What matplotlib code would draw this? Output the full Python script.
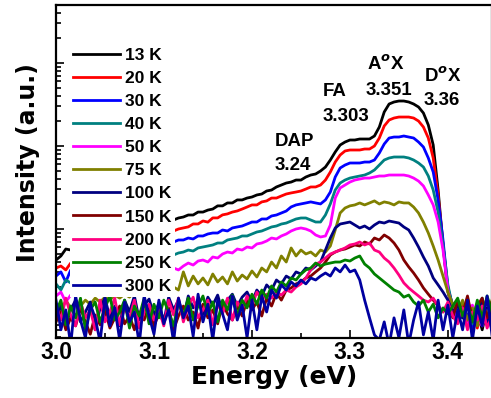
import matplotlib
matplotlib.use('Agg')
import matplotlib.pyplot as plt
from matplotlib.ticker import MultipleLocator, LogLocator, NullFormatter

plt.rcParams['font.family'] = 'Liberation Sans'
plt.rcParams['font.weight'] = 'bold'
plt.rcParams['mathtext.fontset'] = 'custom'
plt.rcParams['mathtext.rm'] = 'Liberation Sans:bold'
plt.rcParams['mathtext.bf'] = 'Liberation Sans:bold'

# photon energy (eV)
energy = [3.000, 3.005, 3.010, 3.015, 3.020, 3.025, 3.030, 3.035, 3.040, 3.045,
          3.050, 3.055, 3.060, 3.065, 3.070, 3.075, 3.080, 3.085, 3.090, 3.095,
          3.100, 3.105, 3.110, 3.115, 3.120, 3.125, 3.130, 3.135, 3.140, 3.145,
          3.150, 3.155, 3.160, 3.165, 3.170, 3.175, 3.180, 3.185, 3.190, 3.195,
          3.200, 3.205, 3.210, 3.215, 3.220, 3.225, 3.230, 3.235, 3.240, 3.245,
          3.250, 3.255, 3.260, 3.265, 3.270, 3.275, 3.280, 3.285, 3.290, 3.295,
          3.300, 3.305, 3.310, 3.315, 3.320, 3.325, 3.330, 3.335, 3.340, 3.345,
          3.350, 3.355, 3.360, 3.365, 3.370, 3.375, 3.380, 3.385, 3.390, 3.395,
          3.400, 3.405, 3.410, 3.415, 3.420, 3.425, 3.430, 3.435, 3.440, 3.445]

int_13k = [42.3, 47.3, 57.4, 55.8, 60.7, 59.1, 66.0, 67.8, 71.7, 71.7,
           77.9, 80.1, 84.7, 84.7, 92.0, 94.6, 100, 100, 108.7, 108.7,
           114.8, 118, 121.4, 128.4, 128.4, 135.7, 139.5, 147.5, 147.5, 160,
           160, 169, 174, 190, 190, 206, 206, 224, 224, 236,
           243, 257, 264, 287, 295, 321, 339, 358, 368, 389,
           389, 423, 447, 460, 500, 558, 678, 847, 1028, 1117,
           1181, 1181, 1214, 1214, 1214, 1320, 1694, 2568, 3207, 3390,
           3485, 3485, 3390, 3207, 2951, 2498, 1791, 1028, 295, 64.2,
           17.4, 10.6, 10.6, 8.5, 12.1, 7.0, 10.0, 6.1, 11.2, 8.0]

int_20k = [33.9, 35.8, 32.1, 38.9, 40.0, 40.0, 44.7, 44.7, 48.6, 48.6,
           52.8, 54.3, 57.4, 59.0, 62.4, 62.4, 67.8, 69.7, 73.7, 75.8,
           80.1, 82.3, 87.0, 92.0, 94.6, 100, 103, 106, 115, 115,
           125, 121, 136, 136, 148, 152, 160, 165, 174, 184,
           195, 195, 212, 218, 236, 236, 250, 264, 272, 279,
           287, 303, 321, 321, 339, 389, 486, 641, 779, 871,
           895, 895, 895, 920, 920, 1000, 1248, 1742, 2057, 2173,
           2234, 2234, 2234, 2173, 2000, 1694, 1248, 716, 257, 64.2,
           18.4, 12.1, 8.95, 12.4, 7.6, 10.6, 6.4, 11.8, 8.5, 10.0]

int_30k = [27.1, 30.4, 23.0, 32.1, 30.4, 33.9, 33.9, 36.8, 37.8, 40.0,
           40.0, 43.5, 44.7, 46.0, 50.0, 50.0, 52.8, 55.8, 55.8, 59.1,
           60.7, 62.4, 64.2, 67.8, 69.7, 73.7, 73.7, 77.9, 75.8, 82.4,
           82.4, 87.1, 89.5, 89.5, 97.3, 94.6, 102.9, 105.8, 108.7, 114.8,
           121.4, 121.4, 132, 132, 143.5, 147.5, 155.9, 164.7, 184.5, 195,
           200.5, 206, 212, 206, 200.5, 224, 279, 423, 543, 590,
           624, 624, 624, 641, 641, 678, 823, 1057, 1248, 1283,
           1283, 1320, 1283, 1248, 1117, 972, 717, 486, 224, 73.7,
           19.5, 11.8, 8.0, 11.2, 9.2, 6.1, 12.4, 7.6, 10.6, 6.8]

int_40k = [21.8, 18.4, 24.3, 22.4, 23.6, 24.3, 25.7, 25.7, 27.1, 27.9,
           28.7, 30.4, 31.2, 32.1, 33.9, 34.9, 35.8, 37.8, 38.9, 40.0,
           42.3, 42.3, 44.7, 47.3, 48.6, 51.4, 52.8, 55.8, 54.3, 59.1,
           60.7, 62.4, 64.2, 67.8, 67.8, 73.7, 75.8, 77.9, 82.4, 82.4,
           87.1, 92.0, 94.6, 100, 105.8, 108.7, 114.8, 118, 124.8, 132,
           135.7, 135.7, 128.4, 121.4, 121.4, 147.5, 200.5, 295, 358, 389,
           411, 423, 435, 447, 473, 514, 590, 678, 717, 737,
           737, 737, 717, 678, 624, 558, 435, 295, 160, 64.2,
           21.2, 11.2, 11.8, 8.5, 13.9, 7.2, 10.0, 14.7, 8.0, 11.2]

int_50k = [15.6, 17.4, 13.2, 16.0, 16.9, 17.4, 18.4, 17.9, 19.5, 20.0,
           20.6, 21.8, 22.4, 22.4, 24.3, 24.3, 25.7, 26.4, 27.1, 28.7,
           29.5, 30.4, 32.1, 32.1, 33.9, 32.1, 35.8, 38.9, 36.8, 41.1,
           42.3, 40.0, 46.0, 44.7, 50.0, 52.8, 51.4, 57.4, 55.8, 60.7,
           59.1, 66.0, 67.8, 71.7, 77.9, 75.8, 82.4, 87.1, 94.6, 100,
           102.9, 100, 94.6, 84.7, 80.1, 82.4, 111.7, 236, 312, 339,
           368, 389, 400, 411, 411, 423, 435, 435, 447, 447,
           447, 447, 435, 411, 378, 330, 257, 195, 121.4, 55.8,
           18.4, 10.6, 7.6, 10.6, 6.4, 12.1, 8.5, 6.8, 10.0, 6.1]

int_75k = [12.1, 10.0, 13.9, 11.2, 12.8, 11.8, 13.9, 12.4, 14.7, 13.2,
           15.1, 13.9, 16.0, 14.7, 16.4, 15.1, 17.4, 16.0, 17.9, 16.9,
           18.4, 17.4, 19.5, 17.9, 20.0, 18.4, 30.4, 20.6, 27.1, 21.8,
           25.7, 21.2, 28.7, 23.0, 26.4, 21.8, 30.4, 23.6, 27.9, 25.0,
           31.2, 26.4, 33.9, 30.4, 40.0, 33.9, 47.3, 40.0, 59.1, 47.3,
           55.8, 50.0, 52.8, 47.3, 55.8, 52.8, 62.4, 97.3, 155.9, 179,
           190, 195, 206, 195, 206, 218, 200, 212, 206, 195,
           212, 206, 206, 184, 156, 121, 89.5, 62.4, 42.3, 27.1,
           17.4, 12.1, 10.0, 13.9, 8.0, 11.2, 6.8, 12.4, 8.95, 13.9]

int_100k = [8.5, 12.1, 7.0, 10.6, 13.9, 7.6, 10.0, 13.2, 6.1, 11.2,
            14.7, 8.5, 11.8, 6.8, 13.9, 10.0, 15.6, 8.0, 12.1, 14.3,
            9.2, 12.8, 7.6, 15.1, 10.6, 13.9, 8.5, 15.6, 11.2, 13.9,
            9.5, 15.1, 12.1, 16.0, 10.0, 13.9, 16.4, 11.8, 15.1, 17.4,
            13.2, 18.4, 15.6, 21.2, 18.4, 24.3, 21.8, 27.1, 25.0, 30.4,
            28.7, 33.9, 32.1, 35.8, 40.0, 55.8, 77.9, 102.9, 114.8, 118,
            121.4, 111.7, 102.9, 108.7, 100, 111.7, 121.4, 118, 124.8, 121.4,
            118, 105.8, 97.3, 77.9, 60.7, 46.0, 35.8, 25.7, 21.2, 17.4,
            13.9, 10.0, 12.1, 8.5, 14.7, 7.6, 10.6, 13.9, 7.0, 11.2]

int_150k = [7.6, 10.0, 6.1, 8.5, 6.8, 11.2, 7.6, 5.4, 9.2, 7.0,
            10.6, 6.4, 8.5, 11.8, 7.2, 8.95, 6.1, 10.0, 8.0, 12.1,
            6.8, 9.5, 7.6, 11.2, 6.1, 8.95, 11.8, 8.0, 10.0, 6.4,
            12.4, 8.5, 10.6, 7.2, 12.8, 9.5, 8.0, 11.8, 8.95, 13.9,
            10.6, 13.2, 8.95, 14.7, 11.8, 16.9, 13.9, 18.4, 19.5, 21.8,
            23.0, 25.7, 27.1, 30.4, 33.9, 40.0, 48.6, 52.8, 55.8, 57.4,
            60.7, 64.2, 62.4, 69.7, 66.0, 77.9, 73.7, 84.7, 77.9, 67.8,
            55.8, 42.3, 34.9, 29.5, 24.3, 19.5, 16.4, 13.9, 11.8, 10.0,
            12.4, 8.5, 13.9, 9.5, 15.6, 8.0, 11.8, 14.7, 8.5, 13.2]

int_200k = [12.1, 8.0, 14.7, 9.2, 6.8, 13.2, 8.5, 10.6, 6.1, 13.9,
            7.6, 10.0, 14.7, 7.0, 11.2, 8.5, 13.9, 6.4, 10.0, 12.4,
            8.0, 10.9, 6.8, 13.9, 9.2, 14.7, 7.6, 11.8, 15.1, 8.5,
            10.6, 13.9, 7.0, 12.4, 9.5, 14.7, 8.0, 13.2, 10.6, 15.6,
            11.8, 17.4, 13.9, 16.4, 14.7, 17.4, 16.0, 18.4, 17.4, 20.0,
            21.8, 25.7, 32.1, 37.8, 40.0, 44.7, 50.0, 52.8, 55.8, 59.1,
            64.2, 66.0, 69.7, 64.2, 67.8, 55.8, 52.8, 44.7, 40.0, 33.9,
            27.9, 22.4, 19.5, 17.4, 15.6, 13.9, 13.2, 14.7, 11.8, 10.0,
            13.2, 8.95, 7.2, 11.2, 6.1, 10.0, 8.0, 11.8, 6.4, 8.95]

int_250k = [10.0, 13.9, 7.0, 11.8, 8.5, 14.7, 6.1, 10.6, 13.2, 7.6,
            11.2, 15.6, 8.0, 10.0, 13.9, 6.4, 11.8, 8.95, 14.7, 7.2,
            12.4, 8.5, 13.9, 10.0, 6.8, 13.2, 8.95, 14.7, 8.0, 11.8,
            15.6, 9.5, 13.2, 7.6, 13.9, 10.6, 16.0, 8.95, 13.9, 11.2,
            16.4, 12.4, 18.4, 14.7, 20.6, 17.4, 23.0, 20.6, 25.7, 24.3,
            28.7, 32.1, 33.9, 38.9, 35.8, 37.8, 38.9, 40.0, 40.0, 42.3,
            41.1, 44.7, 47.3, 37.8, 33.9, 28.7, 25.7, 23.0, 20.6, 18.4,
            17.4, 15.1, 16.0, 13.2, 11.8, 13.9, 10.0, 12.4, 8.5, 11.2,
            9.5, 11.8, 14.7, 8.95, 12.4, 7.6, 13.9, 8.5, 15.6, 10.0]

int_300k = [13.9, 6.1, 10.6, 4.0, 15.6, 8.0, 4.9, 12.4, 8.5, 4.35,
            14.7, 6.8, 11.2, 4.6, 13.2, 7.6, 10.0, 4.1, 15.6, 8.95,
            5.4, 13.9, 7.2, 10.6, 4.35, 14.7, 8.5, 11.8, 5.1, 16.4,
            7.6, 12.4, 4.6, 13.9, 9.5, 6.1, 15.6, 8.0, 12.1, 4.9,
            13.9, 6.1, 15.6, 10.0, 18.4, 14.7, 21.2, 18.4, 23.0, 20.6,
            24.3, 21.8, 25.7, 24.3, 27.1, 29.5, 27.1, 33.9, 30.4, 36.8,
            30.4, 32.1, 24.3, 13.9, 8.5, 5.3, 4.6, 7.6, 4.0, 8.5,
            4.9, 10.6, 4.1, 8.0, 13.2, 5.3, 10.0, 4.6, 13.9, 6.1,
            12.1, 4.9, 10.6, 6.1, 13.9, 4.6, 11.8, 6.8, 15.6, 5.3]

labels = ['13 K', '20 K', '30 K', '40 K', '50 K', '75 K',
          '100 K', '150 K', '200 K', '250 K', '300 K']
spectra = [int_13k, int_20k, int_30k, int_40k, int_50k, int_75k,
           int_100k, int_150k, int_200k, int_250k, int_300k]
colors = ['#000000', '#ff0000', '#0000ff', '#008080', '#ff00ff', '#808000',
          '#000080', '#800000', '#ff0080', '#008000', '#0000a0']

# peak labels: (text, energy, intensity at baseline)
peak_text = ['DAP', '3.24', 'FA', '3.303', 'A$^{o}$X', '3.351', 'D$^{o}$X', '3.36']
peak_x = [3.2235, 3.2235, 3.2724, 3.2724, 3.3173, 3.3163, 3.3755, 3.3755]
peak_y = [1000, 514, 4000, 2000, 8240, 4115, 5900, 3119]

fig = plt.figure(figsize=(4.91, 3.98), dpi=100)
ax = fig.add_axes([56 / 491, 60 / 398, 436 / 491, 333 / 398])

for vals, col, lab in zip(spectra, colors, labels):
    ax.plot(energy, vals, color=col, lw=2, label=lab)

ax.set_yscale('log')
ax.set_xlim(3.0, 3.445)
ax.set_ylim(4.86, 5e4)

ax.set_xticks([3.0, 3.1, 3.2, 3.3, 3.4])
ax.xaxis.set_minor_locator(MultipleLocator(0.05))
ax.yaxis.set_major_locator(LogLocator(base=10, numticks=10))
ax.yaxis.set_minor_locator(LogLocator(base=10, subs=range(2, 10), numticks=20))
ax.yaxis.set_major_formatter(NullFormatter())
ax.yaxis.set_minor_formatter(NullFormatter())
ax.tick_params(which='both', direction='in', top=False, right=False, width=1.2)
ax.tick_params(which='major', length=6)
ax.tick_params(which='minor', length=3.5)
ax.tick_params(axis='x', labelsize=16.5, pad=2)
for s in ax.spines.values():
    s.set_linewidth(1.6)

ax.set_xlabel('Energy (eV)', fontsize=18, fontweight='bold', family='DejaVu Sans')
ax.xaxis.set_label_coords(0.5, -0.08)
ax.set_ylabel('Intensity (a.u.)', fontsize=17, fontweight='bold', family='DejaVu Sans')
ax.yaxis.set_label_coords(-0.037, 0.528)

for t, x, y in zip(peak_text, peak_x, peak_y):
    ax.text(x, y, t, fontsize=13.4, fontweight='bold', ha='left', va='baseline')

ax.legend(loc='upper left', bbox_to_anchor=(0.032, 0.883), frameon=True,
          fancybox=False, edgecolor='none', facecolor='white', framealpha=1,
          fontsize=12.5, handlelength=2.7, handletextpad=0.25,
          labelspacing=0.46, borderpad=0.2, borderaxespad=0)

plt.savefig('out.png', dpi=100)
